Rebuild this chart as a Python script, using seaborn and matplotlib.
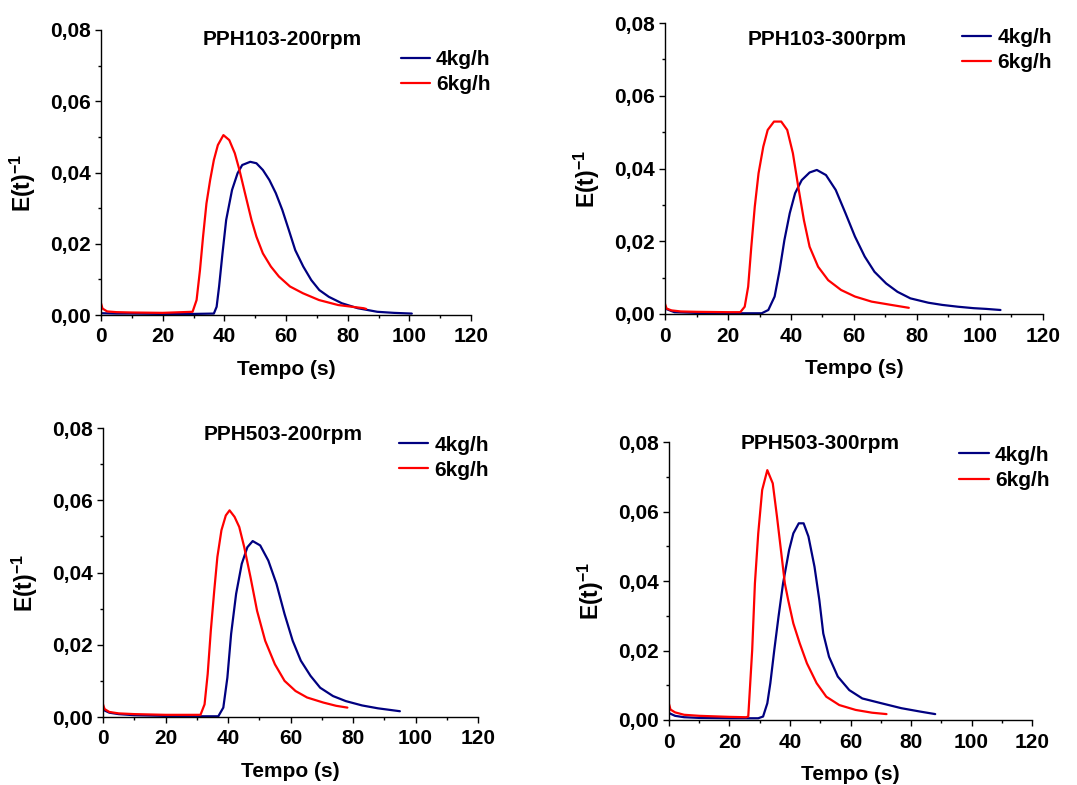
import matplotlib
matplotlib.use("Agg")
import matplotlib.pyplot as plt
import seaborn as sns
from matplotlib.ticker import MultipleLocator

# Data (time in s, E(t)^-1)
titles = ["PPH103-200rpm", "PPH103-300rpm", "PPH503-200rpm", "PPH503-300rpm"]
series_labels = ["4kg/h", "6kg/h"]

# PPH103-200rpm
p1_t4 = [0, 5, 10, 20, 30, 36.6, 37.5, 38.3, 39.4, 40.6, 42.5, 44.3, 45.8, 48.4, 50.4, 52.5, 54.6,
         56.7, 58.8, 60.9, 63, 65.6, 68.2, 70.8, 73.9, 78.1, 83.3, 89.6, 95, 100.8]
p1_e4 = [0.0005, 0.0004, 0.0004, 0.0003, 0.0003, 0.0004, 0.0023, 0.008, 0.0173, 0.0267, 0.0351, 0.0398,
         0.0421, 0.043, 0.0426, 0.0407, 0.0379, 0.0342, 0.0295, 0.0239, 0.0182, 0.0136, 0.0098, 0.007,
         0.0051, 0.0033, 0.0019, 0.0009, 0.0006, 0.0004]
p1_t6 = [0, 0.5, 2, 5, 10, 20, 29.7, 31.0, 32.1, 33.1, 34.2, 35.4, 36.6, 37.9, 39.7, 41.6, 43.4, 44.9,
         46.7, 48.8, 50.4, 52.5, 55.1, 57.7, 61.3, 65.5, 70.7, 76.9, 85.2, 86]
p1_e6 = [0.0033, 0.0018, 0.001, 0.0008, 0.0007, 0.0006, 0.0009, 0.0042, 0.0126, 0.022, 0.0313, 0.0379,
         0.0435, 0.0477, 0.0505, 0.0491, 0.0454, 0.0407, 0.0342, 0.0267, 0.022, 0.0173, 0.0136, 0.0108,
         0.008, 0.0061, 0.0042, 0.0028, 0.0019, 0.0017]

# PPH103-300rpm
p2_t4 = [0, 3, 10, 20, 30.7, 32.8, 34.8, 36.4, 37.9, 39.6, 41.3, 43.4, 45.9, 48.2, 51.1, 54.2, 57.3,
         60.3, 63.4, 66.5, 70.2, 73.8, 77.9, 83.6, 88, 93, 98, 102, 106.5]
p2_e4 = [0.0015, 0.0005, 0.0003, 0.0002, 0.0002, 0.0011, 0.0048, 0.0121, 0.0203, 0.0277, 0.0332, 0.0368,
         0.0389, 0.0396, 0.0382, 0.0341, 0.0277, 0.0213, 0.0158, 0.0116, 0.0084, 0.0061, 0.0043, 0.0031,
         0.0025, 0.002, 0.0016, 0.0014, 0.0011]
p2_t6 = [0, 0.5, 2, 5, 10, 20, 23.9, 25.3, 26.4, 27.4, 28.5, 29.7, 31.2, 32.6, 34.6, 36.9, 38.8, 40.6,
         42.3, 44.1, 45.9, 48.6, 51.8, 55.9, 60.3, 65.6, 71.8, 77.4]
p2_e6 = [0.0028, 0.0015, 0.001, 0.0007, 0.0006, 0.0005, 0.0005, 0.002, 0.0075, 0.0185, 0.0295, 0.0387,
         0.046, 0.0506, 0.0529, 0.0529, 0.0506, 0.0442, 0.035, 0.0258, 0.0185, 0.013, 0.0093, 0.0066,
         0.0048, 0.0034, 0.0025, 0.0017]

# PPH503-200rpm
p3_t4 = [0, 2, 5, 10, 20, 30, 36.9, 38.5, 39.8, 41, 42.6, 44.4, 46.2, 47.9, 50.3, 52.9, 55.5, 58.1,
         60.7, 63.3, 66.4, 69.5, 73.6, 77.7, 82.9, 88, 95]
p3_e4 = [0.002, 0.0012, 0.0008, 0.0005, 0.0003, 0.0002, 0.0002, 0.0026, 0.0109, 0.023, 0.0341, 0.0424,
         0.047, 0.0487, 0.0475, 0.0433, 0.0369, 0.0285, 0.0211, 0.0156, 0.0114, 0.0081, 0.0058, 0.0044,
         0.0032, 0.0024, 0.0016]
p3_t6 = [0, 0.5, 2, 5, 10, 20, 31.2, 32.5, 33.5, 34.5, 35.6, 36.6, 37.9, 39.3, 40.5, 42.1, 43.6, 45.2,
         47.2, 49.3, 51.9, 55, 58.1, 61.6, 65.3, 70.5, 74.6, 78.2]
p3_e6 = [0.0035, 0.0022, 0.0014, 0.001, 0.0008, 0.0006, 0.0006, 0.0035, 0.0119, 0.0239, 0.035, 0.0443,
         0.0517, 0.0558, 0.0572, 0.0554, 0.0526, 0.047, 0.0387, 0.0294, 0.0211, 0.0146, 0.01, 0.0072,
         0.0054, 0.004, 0.0031, 0.0026]

# PPH503-300rpm
p4_t4 = [0, 2, 5, 10, 20, 29.5, 31.1, 32.5, 33.5, 34.8, 36.2, 37.7, 39.7, 41.1, 42.9, 44.5, 46.1, 48.1,
         49.7, 51, 52.9, 55.8, 59.6, 63.9, 70.3, 76.8, 83.2, 88]
p4_e4 = [0.002, 0.0012, 0.0008, 0.0006, 0.0005, 0.0005, 0.001, 0.0048, 0.0106, 0.0201, 0.0297, 0.0393,
         0.0489, 0.0537, 0.0566, 0.0566, 0.0528, 0.0441, 0.0345, 0.0249, 0.0182, 0.0125, 0.0086, 0.0062,
         0.0048, 0.0034, 0.0024, 0.0017]
p4_t6 = [0, 0.5, 2, 5, 10, 20, 25.5, 26.2, 27.5, 28.4, 29.5, 30.8, 32.5, 34.3, 35.7, 37, 38.3, 39.4,
         41.1, 43.2, 45.6, 48.8, 52, 56.3, 61.7, 67.1, 71.9]
p4_e6 = [0.0046, 0.003, 0.0022, 0.0015, 0.0012, 0.0009, 0.0008, 0.001, 0.0201, 0.0393, 0.0537, 0.0662,
         0.0719, 0.0681, 0.0585, 0.0489, 0.0393, 0.0345, 0.0278, 0.0221, 0.0163, 0.0106, 0.0067, 0.0043,
         0.0029, 0.0021, 0.0017]

x_ticks = [0, 20, 40, 60, 80, 100, 120]
x_tick_labels = ["0", "20", "40", "60", "80", "100", "120"]
y_ticks = [0.0, 0.02, 0.04, 0.06, 0.08]
y_tick_labels = ["0,00", "0,02", "0,04", "0,06", "0,08"]

sns.set_theme(style="ticks")
plt.rcParams["font.family"] = ["Liberation Sans", "DejaVu Sans"]
plt.rcParams["font.weight"] = "bold"
plt.rcParams["axes.labelweight"] = "bold"
plt.rcParams["text.color"] = "black"
plt.rcParams["axes.labelcolor"] = "black"
plt.rcParams["xtick.color"] = "black"
plt.rcParams["ytick.color"] = "black"
plt.rcParams["mathtext.fontset"] = "custom"
plt.rcParams["mathtext.rm"] = "Liberation Sans:bold"
plt.rcParams["mathtext.bf"] = "Liberation Sans:bold"
plt.rcParams["mathtext.default"] = "rm"

navy = "#000080"
red = "#ff0000"
W, H = 1077, 785
fs = 15

# pixel boxes (left, top, right, bottom), title pos and legend anchor in axes coords
panels = [
    (p1_t4, p1_e4, p1_t6, p1_e6, (101, 30, 471, 315), (0.49, 0.967), (0.81, 0.93)),
    (p2_t4, p2_e4, p2_t6, p2_e6, (665, 23, 1043, 314), (0.43, 0.945), (0.786, 0.982)),
    (p3_t4, p3_e4, p3_t6, p3_e6, (103, 428, 478, 717), (0.48, 0.976), (0.79, 0.974)),
    (p4_t4, p4_e4, p4_t6, p4_e6, (669, 442, 1032, 720), (0.415, 0.996), (0.80, 0.987)),
]

fig = plt.figure(figsize=(W / 100, H / 100), dpi=100)

for i, (t4, e4, t6, e6, box, tpos, lpos) in enumerate(panels):
    l, t, r, b = box
    ax = fig.add_axes([l / W, 1 - b / H, (r - l) / W, (b - t) / H])
    sns.lineplot(x=t4, y=e4, color=navy, lw=1.6, ax=ax, label=series_labels[0],
                 sort=False, estimator=None)
    sns.lineplot(x=t6, y=e6, color=red, lw=1.6, ax=ax, label=series_labels[1],
                 sort=False, estimator=None)

    ax.set_xlim(0, 120)
    ax.set_ylim(0, 0.08)
    ax.set_xticks(x_ticks)
    ax.set_xticklabels(x_tick_labels)
    ax.set_yticks(y_ticks)
    ax.set_yticklabels(y_tick_labels)
    ax.xaxis.set_minor_locator(MultipleLocator(10))
    ax.yaxis.set_minor_locator(MultipleLocator(0.01))
    ax.tick_params(which="major", direction="out", length=4, width=1, color="black",
                   labelsize=fs, labelcolor="black")
    ax.tick_params(which="minor", direction="out", length=2.5, width=1, color="black")
    ax.tick_params(axis="x", which="major", pad=5)
    ax.tick_params(axis="y", which="major", pad=3)
    for lab in ax.get_xticklabels() + ax.get_yticklabels():
        lab.set_fontweight("bold")

    sns.despine(ax=ax)
    for s in ["left", "bottom"]:
        ax.spines[s].set_color("black")
        ax.spines[s].set_linewidth(1)

    ax.set_xlabel("Tempo (s)", fontsize=fs, fontweight="bold", color="black", labelpad=10)
    ax.set_ylabel(r"E(t)$^{-1}$", fontsize=16.5, fontweight="bold", color="black", labelpad=9)
    ax.yaxis.label.set_y(0.465)

    ax.text(tpos[0], tpos[1], titles[i], transform=ax.transAxes, ha="center", va="center",
            fontsize=fs, fontweight="bold", color="black")

    ax.legend(loc="upper left", bbox_to_anchor=lpos, frameon=False, borderpad=0,
              borderaxespad=0, handlelength=1.4, handletextpad=0.3, labelspacing=0.3,
              prop={"weight": "bold", "size": fs})

fig.savefig("out.png", dpi=100)
